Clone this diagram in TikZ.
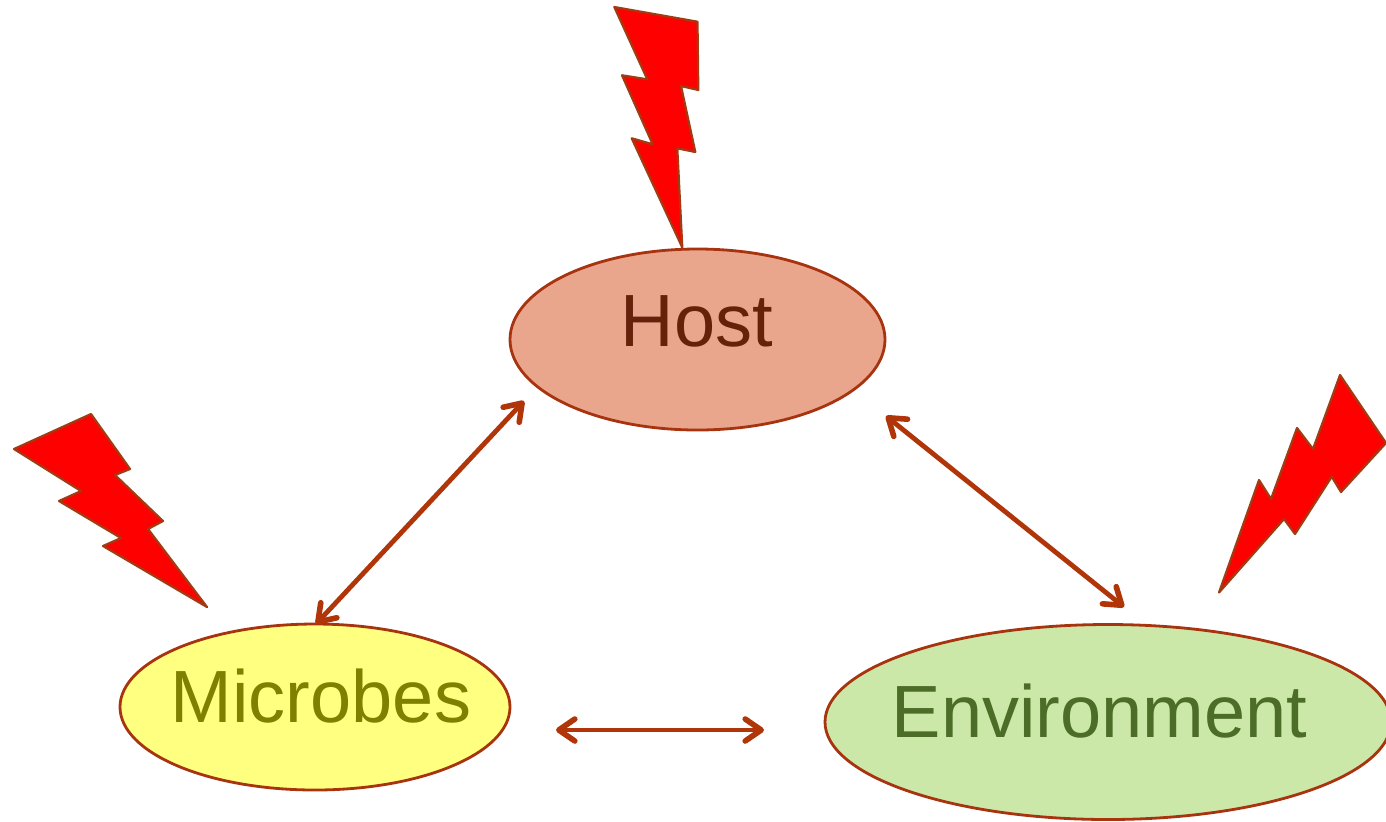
\documentclass[tikz,border=0pt]{standalone}
\usepackage{fontspec}
\setmainfont{Liberation Sans}
\usetikzlibrary{shapes.geometric,arrows.meta}
\definecolor{edgeC}{HTML}{A8330F}
\definecolor{arrowC}{HTML}{B03508}
\definecolor{boltE}{HTML}{A33B12}
\definecolor{hostF}{HTML}{E9A68D}
\definecolor{microF}{HTML}{FFFF80}
\definecolor{envF}{HTML}{CCE8A8}
\definecolor{hostT}{HTML}{66210A}
\definecolor{microT}{HTML}{808000}
\definecolor{envT}{HTML}{4B6D28}
\tikzset{
  blob/.style={ellipse,draw=edgeC,line width=1.4pt,inner sep=0pt},
  lab/.style={anchor=base,inner sep=0pt,font=\fontsize{37}{40}\selectfont},
  bolt/.style={draw=boltE,fill=red,line width=1.1pt,line join=round},
  link/.style={draw=arrowC,line width=2.4pt,
    {Straight Barb[length=8pt,width=11pt,line width=2.8pt,round]}-{Straight Barb[length=8pt,width=11pt,line width=2.8pt,round]}}
}
\begin{document}
\begin{tikzpicture}[x=0.5pt,y=-0.5pt]
\clip (0,0) rectangle (1386,821);
\path[fill=white] (0,0) rectangle (1386,821);
% ellipses
\node[blob,fill=hostF,minimum width=187.5pt,minimum height=90.5pt] (host) at (697.5,339.5) {};
\node[blob,fill=microF,minimum width=195pt,minimum height=83pt] (micro) at (315,707) {};
\node[blob,fill=envF,minimum width=283pt,minimum height=97.5pt] (env) at (1108,722) {};
% labels
\node[lab,text=hostT] (hostL) at (697,346.5) {Host};
\node[lab,text=microT] (microL) at (321,722.5) {Microbes};
\node[lab,text=envT] (envL) at (1099.5,737) {Environment};
% free ends
\coordinate (hostSW) at (524,401);
\coordinate (hostSE) at (886,416);
\coordinate (envNW) at (1124,607);
\coordinate (microE) at (556,730);
\coordinate (envW) at (764,730);
\coordinate (microN) at (316,624);
% connectors
\draw[link] (microN) -- (hostSW);
\draw[link] (hostSE) -- (envNW);
\draw[link] (microE) -- (envW);
% bolts
\draw[bolt] (614.3,7) -- (697.5,21.7) -- (698.3,90) -- (681,86) -- (695.3,152) -- (677.3,148.3) -- (682.3,247.5) -- (631.7,138.3) -- (652.7,144.3) -- (622,75.3) -- (647.3,79.3) -- cycle;
\draw[bolt] (14,449) -- (91,414) -- (130,469) -- (115,475) -- (163,521) -- (148,529) -- (207,607) -- (103,546) -- (121,538) -- (59,501) -- (81,491) -- cycle;
\draw[bolt] (1340,375) -- (1386,443) -- (1341,492) -- (1331.7,476.7) -- (1295,534) -- (1284,519) -- (1219,592.5) -- (1259,480) -- (1271,499) -- (1297,428) -- (1313,449) -- cycle;
\end{tikzpicture}
\end{document}
